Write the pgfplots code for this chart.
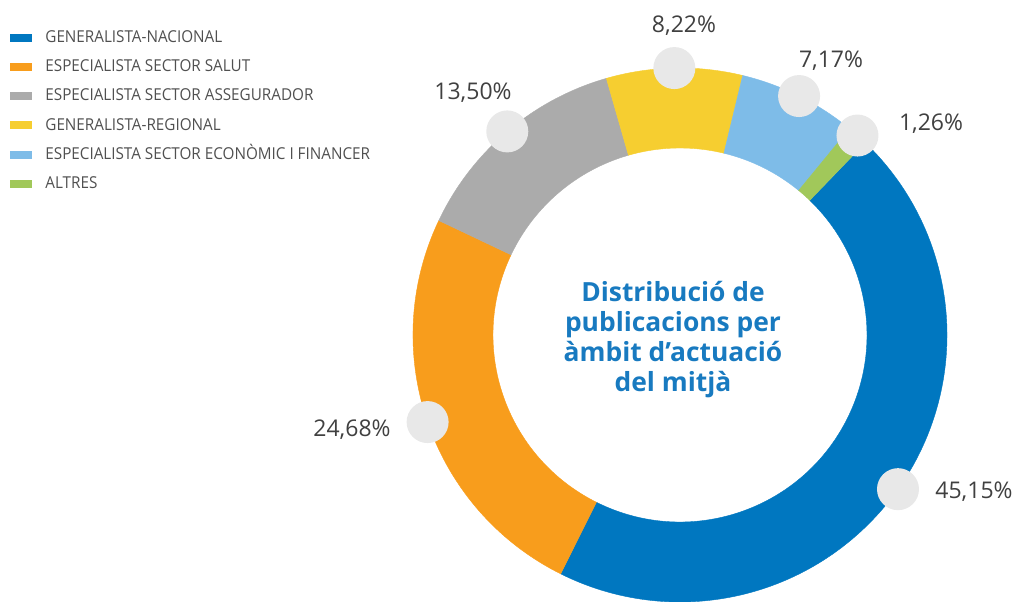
\documentclass[border=0pt]{standalone}
\usepackage{pgfplots}
\pgfplotsset{compat=1.18}
\usepackage{fontspec}
\setmainfont{Open Sans}
\newfontfamily\legfont[FakeStretch=0.93]{Open Sans}

\definecolor{cBlue}{RGB}{0,119,192}
\definecolor{cOrange}{RGB}{248,157,28}
\definecolor{cGray}{RGB}{171,171,171}
\definecolor{cYellow}{RGB}{246,206,48}
\definecolor{cLight}{RGB}{126,188,232}
\definecolor{cGreen}{RGB}{161,200,90}
\definecolor{cBubble}{RGB}{232,232,232}
\definecolor{cLabel}{RGB}{64,64,64}
\definecolor{cLegend}{RGB}{80,80,80}
\definecolor{cTitle}{RGB}{24,122,192}

% data (percent)
\def\vA{45.15}% Generalista-Nacional
\def\vB{24.68}% Especialista sector salut
\def\vC{13.50}% Especialista sector assegurador
\def\vD{8.22}%  Generalista-regional
\def\vE{7.17}%  Especialista sector economic i financer
\def\vF{1.26}%  Altres

% geometry (axis units = px of reference)
\def\cx{680}\def\cy{266}\def\Ro{267}\def\Ri{187}
\def\Rpt{133.5pt}\def\rpt{93.5pt}

\pgfmathsetmacro\tA{46}
\pgfmathsetmacro\tB{\tA-3.6*\vA}
\pgfmathsetmacro\tC{\tB-3.6*\vB}
\pgfmathsetmacro\tD{\tC-3.6*\vC}
\pgfmathsetmacro\tE{\tD-3.6*\vD}
\pgfmathsetmacro\tF{\tE-3.6*\vE}
\pgfmathsetmacro\tG{\tF-3.6*\vF}
\pgfmathsetmacro\mA{(\tA+\tB)/2}
\pgfmathsetmacro\mB{(\tB+\tC)/2}
\pgfmathsetmacro\mC{(\tC+\tD)/2}
\pgfmathsetmacro\mD{(\tD+\tE)/2}
\pgfmathsetmacro\mE{(\tE+\tF)/2}
\pgfmathsetmacro\mF{(\tF+\tG)/2}

\newcommand{\slice}[3]{%
  \fill[#3, draw=#3, line width=0.2pt] (axis cs:{\cx+\Ro*cos(#1)},{\cy+\Ro*sin(#1)})
    arc[start angle=#1, end angle=#2, radius=\Rpt]
    -- (axis cs:{\cx+\Ri*cos(#2)},{\cy+\Ri*sin(#2)})
    arc[start angle=#2, end angle=#1, radius=\rpt] -- cycle;}
\newcommand{\bubble}[1]{%
  \fill[cBubble] (axis cs:{\cx+\Ro*cos(#1)},{\cy+\Ro*sin(#1)}) circle[radius=10.5pt];}

\begin{document}
\begin{tikzpicture}
\begin{axis}[
  width=508pt, height=300.5pt, scale only axis,
  xmin=0, xmax=1016, ymin=0, ymax=601,
  enlargelimits=false, hide axis, clip=true,
  legend style={at={(axis cs:10,571)}, anchor=north west, draw=none, fill=none,
    inner sep=0pt, row sep=7.1pt,
    font=\legfont\fontsize{8.2}{9}\selectfont, text=cLegend,
    nodes={inner sep=0pt, text height=6pt, text depth=1.5pt},
    /tikz/every odd column/.style={column sep=6.5pt}},
  legend cell align=left,
  legend image code/.code={\path[#1, draw=none] (0pt,-2pt) rectangle (11pt,2pt);},
]
\addlegendimage{fill=cBlue, draw=none}
\addlegendentry{GENERALISTA-NACIONAL}
\addlegendimage{fill=cOrange, draw=none}
\addlegendentry{ESPECIALISTA SECTOR SALUT}
\addlegendimage{fill=cGray, draw=none}
\addlegendentry{ESPECIALISTA SECTOR ASSEGURADOR}
\addlegendimage{fill=cYellow, draw=none}
\addlegendentry{GENERALISTA-REGIONAL}
\addlegendimage{fill=cLight, draw=none}
\addlegendentry{ESPECIALISTA SECTOR ECONÒMIC I FINANCER}
\addlegendimage{fill=cGreen, draw=none}
\addlegendentry{ALTRES}

\slice{\tA}{\tB}{cBlue}
\slice{\tB}{\tC}{cOrange}
\slice{\tC}{\tD}{cGray}
\slice{\tD}{\tE}{cYellow}
\slice{\tE}{\tF}{cLight}
\slice{\tF}{\tG}{cGreen}

\bubble{\mA}\bubble{\mB}\bubble{\mC}\bubble{\mD}\bubble{\mE}\bubble{\mF}

\begin{scope}[every node/.style={font=\fontsize{11.5}{13}\selectfont, text=cLabel, inner sep=0pt}]
\node at (axis cs:974,109) {45,15\%};
\node at (axis cs:352,171) {24,68\%};
\node at (axis cs:473,508) {13,50\%};
\node at (axis cs:684,575) {8,22\%};
\node at (axis cs:831,540) {7,17\%};
\node at (axis cs:931,477) {1,26\%};
\end{scope}

\node[align=center, text=cTitle, font=\bfseries\fontsize{13.2}{15}\selectfont]
  at (axis cs:673,261) {Distribució de\\publicacions per\\àmbit d’actuació\\del mitjà};
\end{axis}
\pgfresetboundingbox
\useasboundingbox (current axis.south west) rectangle (current axis.north east);
\end{tikzpicture}
\end{document}
